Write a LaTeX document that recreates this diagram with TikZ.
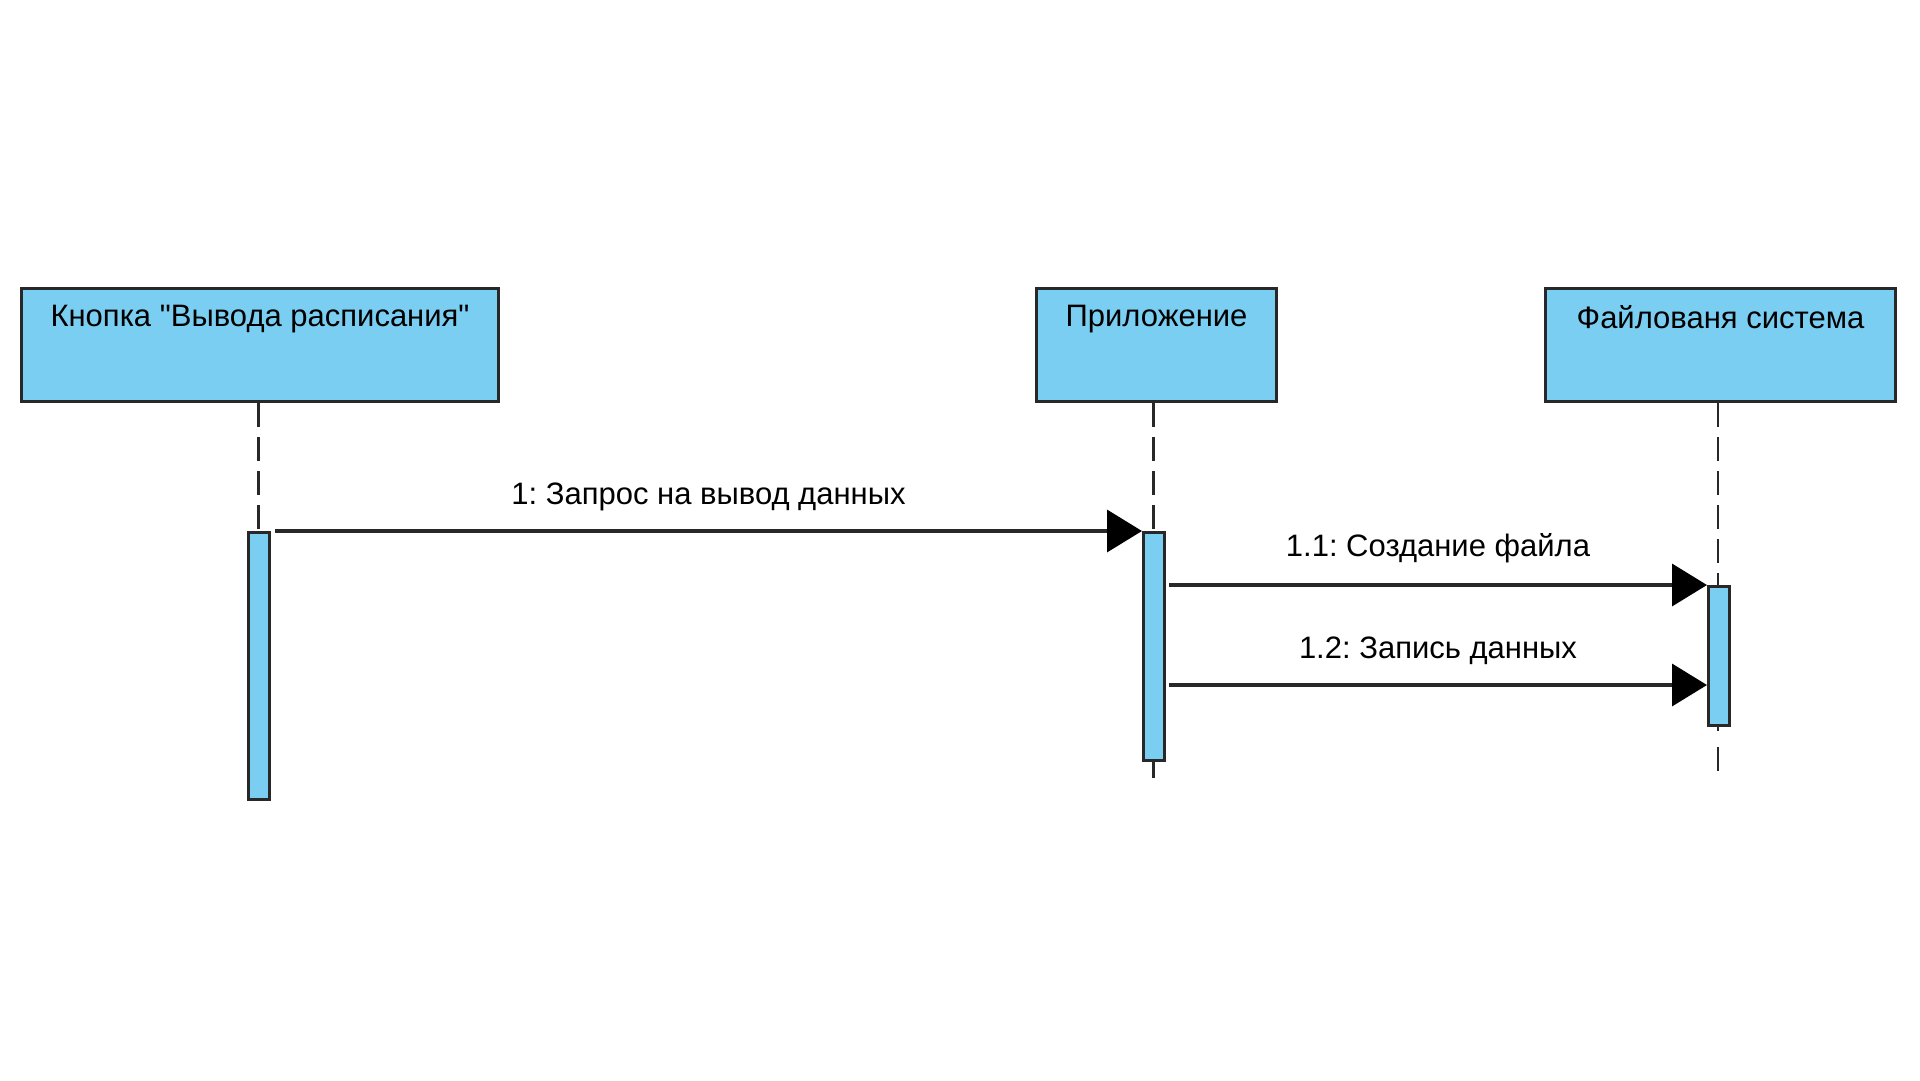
\documentclass[tikz,border=0pt]{standalone}
\usepackage{fontspec}
\setmainfont{Liberation Sans}[Ligatures=TeXOff]
\usetikzlibrary{arrows.meta}
\definecolor{actfill}{RGB}{122,206,242}
\definecolor{ink}{RGB}{40,40,40}
\begin{document}
\frenchspacing
\begin{tikzpicture}[x=1pt,y=-1pt,
  lifebox/.style={draw=ink, line width=3pt, fill=actfill, minimum width=#1, minimum height=113pt, inner sep=0pt, anchor=north west},
  boxtext/.style={font=\fontsize{31}{34}\selectfont, text=black},
  actbar/.style={draw=ink, line width=3pt, fill=actfill, minimum width=21pt, inner sep=0pt, anchor=north west},
  lifeline/.style={draw=ink, line width=3pt, dash pattern=on 24pt off 10pt},
  msg/.style={draw=ink, line width=3.6pt, -{Triangle[length=35pt,width=42pt,color=black]}},
  msgtext/.style={font=\fontsize{31}{34}\selectfont, text=black}
]
\useasboundingbox (0,0) rectangle (1920,1080);

% lifeline heads
\node[lifebox=477pt] (b1) at (20,287) {};
\node[lifebox=240pt] (b2) at (1035,287) {};
\node[lifebox=350pt] (b3) at (1544,287) {};
\node[boxtext, anchor=north] (t1) at ([yshift=-15pt]b1.north) {Кнопка "Вывода расписания"};
\node[boxtext, anchor=north] (t2) at ([yshift=-15pt]b2.north) {Приложение};
\node[boxtext, anchor=north] (t3) at ([yshift=-15pt]b3.north) {Файлованя система};

% end coordinates of lifelines
\coordinate (e1) at (258,798);
\coordinate (e2) at (1153,778);
\coordinate (e3) at (1718,778);

% activation bars
\node[actbar, minimum height=267pt] (a1) at (247,531) {};
\node[actbar, minimum height=228pt] (a2) at (1142,531) {};
\node[actbar, minimum height=139pt] (a3) at (1707,585) {};

\draw[lifeline] (b1.south -| e1) -- (a1.north -| e1);
\draw[lifeline] (b2.south -| e2) -- (a2.north -| e2);
\draw[lifeline] (a2.south -| e2) -- (e2);
\draw[lifeline, line width=2.4pt] (b3.south -| e3) -- (a3.north -| e3);
\draw[lifeline, line width=2.4pt, dash pattern=on 4pt off 16pt on 24pt off 10pt] (a3.south -| e3) -- (e3);

% messages
\coordinate (m12) at (1707,685);
\draw[msg] ([xshift=4pt]a1.north east) -- (a2.north west)
  node[msgtext, midway, above=15pt] (l1) {1: Запрос на вывод данных};
\draw[msg] ([xshift=3pt]a2.east |- a3.north) -- (a3.north west)
  node[msgtext, midway, above=17pt] (l2) {1.1: Создание файла};
\draw[msg] ([xshift=3pt]a2.east |- m12) -- (m12)
  node[msgtext, midway, above=15pt] (l3) {1.2: Запись данных};
\end{tikzpicture}
\end{document}
